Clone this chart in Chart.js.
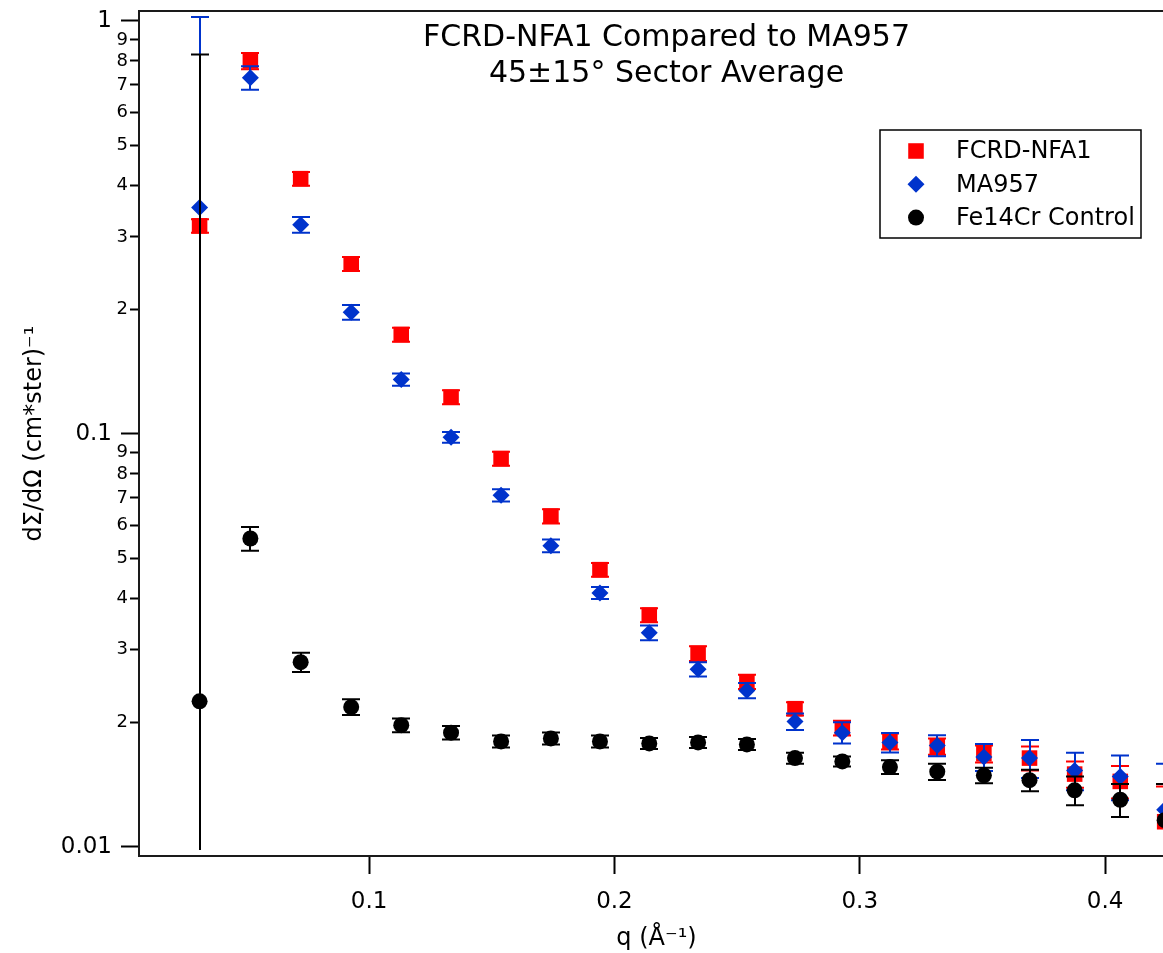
<!DOCTYPE html>
<html>
<head>
<meta charset="utf-8">
<title>FCRD-NFA1 Compared to MA957</title>
<script src="https://cdn.jsdelivr.net/npm/chart.js@4.4.1/dist/chart.umd.min.js"></script>
<style>
    html, body { margin: 0; padding: 0; background: #fff; overflow: hidden; }
    #wrap { position: absolute; left: 0; top: 0; width: 1185px; height: 953px; }
</style>
</head>
<body>
<div id="wrap"><canvas id="sansChart"></canvas></div>
<script>
// q values (1/A)
const qValues = [0.0309, 0.0516, 0.0721, 0.0927, 0.1131, 0.1334, 0.1538, 0.1741, 0.1941, 0.2142,
    0.2341, 0.2540, 0.2736, 0.2929, 0.3123, 0.3316, 0.3506, 0.3692, 0.3876, 0.4062, 0.4243];

const seriesNames = ['FCRD-NFA1', 'MA957', 'Fe14Cr Control'];

const fcrdValues = [0.319, 0.800, 0.415, 0.258, 0.174, 0.1227, 0.0871, 0.0632, 0.0469, 0.0364,
    0.0294, 0.0251, 0.0216, 0.0194, 0.0180, 0.0175, 0.0168, 0.0164, 0.0150, 0.0144, 0.0115];
const fcrdErrors = [0.012, 0.036, 0.016, 0.010, 0.0068, 0.0048, 0.0034, 0.0025, 0.0018, 0.0014,
    0.0012, 0.0010, 0.0008, 0.0008, 0.0008, 0.0008, 0.0008, 0.0011, 0.0011, 0.0013, 0.0025];

const ma957Values = [0.3535, 0.729, 0.321, 0.197, 0.1354, 0.0981, 0.0710, 0.0536, 0.0412, 0.0330,
    0.0269, 0.0239, 0.0201, 0.0189, 0.0179, 0.0176, 0.0165, 0.0164, 0.0153, 0.0148, 0.0123];
const ma957Errors = [0.669, 0.048, 0.014, 0.0081, 0.0046, 0.0029, 0.0024, 0.0019, 0.0014, 0.00136,
    0.00107, 0.00102, 0.00093, 0.00112, 0.00097, 0.00103, 0.00124, 0.00173, 0.0016, 0.00183, 0.0036];

const fe14crValues = [0.0225, 0.0558, 0.0280, 0.0218, 0.0197, 0.0189, 0.0180, 0.0183, 0.0180, 0.0178,
    0.0179, 0.0177, 0.0164, 0.0161, 0.0156, 0.0152, 0.0149, 0.0145, 0.0137, 0.0130, 0.0116];
const fe14crErrors = [0.807, 0.0037, 0.0015, 0.00096, 0.00075, 0.00072, 0.00061, 0.00062, 0.00061, 0.00055,
    0.00055, 0.00055, 0.0005, 0.00045, 0.0006, 0.00068, 0.00065, 0.00086, 0.0011, 0.0012, 0.0026];

// tick values
const xTicks = [0.1, 0.2, 0.3, 0.4];
const yMajorTicks = [0.01, 0.1, 1];
const yMinorTicks = [0.02, 0.03, 0.04, 0.05, 0.06, 0.07, 0.08, 0.09, 0.2, 0.3, 0.4, 0.5, 0.6, 0.7, 0.8, 0.9];

const FONT = "'DejaVu Sans', sans-serif";
const RED = '#ff0000';
const BLUE = '#0033cc';
const BLACK = '#000000';
const AXIS = '#1a1a1a';

function toPoints(values) {
    return qValues.map((q, i) => ({ x: q, y: values[i] }));
}

// no label overflow padding, so the plot box sits where the reference has it
function noOverflow(scale) {
    scale.paddingTop = 0;
    scale.paddingBottom = 0;
    scale.paddingLeft = 0;
    scale.paddingRight = 0;
}

// the minor-tick axis takes no layout space; give it room back on the left
// so its labels are not clipped away
const pinMinorAxis = {
    id: 'pinMinorAxis',
    afterLayout(chart) {
        const a = chart.chartArea;
        const m = chart.scales.yMinor;
        m.left = a.left - 40;
        m.right = a.left;
        m.width = 40;
        m.top = a.top;
        m.bottom = a.bottom;
        m.height = a.bottom - a.top;
        m.configure();
    }
};

// error bars, drawn just before each dataset's markers
const errorBars = {
    id: 'errorBars',
    beforeDatasetDraw(chart, args) {
        const ds = chart.data.datasets[args.index];
        if (!ds.errors) return;
        const { ctx, chartArea: area } = chart;
        const xs = chart.scales.x, ys = chart.scales.y;
        ctx.save();
        ctx.beginPath();
        ctx.rect(area.left, area.top, area.right - area.left, area.bottom - area.top);
        ctx.clip();
        ctx.strokeStyle = ds.backgroundColor;
        ctx.lineWidth = 2;
        ds.data.forEach((p, i) => {
            const e = ds.errors[i];
            const px = Math.round(xs.getPixelForValue(p.x));
            const hi = ys.getPixelForValue(p.y + e);
            const lowOk = p.y - e > 0;
            const lo = lowOk ? ys.getPixelForValue(p.y - e) : area.bottom - 6;
            ctx.beginPath();
            ctx.moveTo(px, hi);
            ctx.lineTo(px, lo);
            ctx.moveTo(px - 9, hi);
            ctx.lineTo(px + 9, hi);
            if (lowOk) {
                ctx.moveTo(px - 9, lo);
                ctx.lineTo(px + 9, lo);
            }
            ctx.stroke();
        });
        ctx.restore();
    }
};

// top/right frame, title inside the plot and boxed legend
const decorations = {
    id: 'decorations',
    afterDraw(chart) {
        const { ctx, chartArea: area } = chart;
        ctx.save();
        ctx.strokeStyle = AXIS;
        ctx.lineWidth = 2;
        ctx.beginPath();
        ctx.moveTo(area.left, area.top);
        ctx.lineTo(area.right, area.top);
        ctx.lineTo(area.right, area.bottom);
        ctx.stroke();

        // title
        const cx = (area.left + area.right) / 2 + 10;
        ctx.fillStyle = '#000';
        ctx.textAlign = 'center';
        ctx.textBaseline = 'middle';
        ctx.font = '30px ' + FONT;
        ctx.fillText('FCRD-NFA1 Compared to MA957', cx, 38);
        ctx.fillText('45\u00b115\u00b0 Sector Average', cx, 74);

        // legend
        const lx = 880, ly = 130, lw = 261, lh = 108;
        ctx.lineWidth = 1.5;
        ctx.strokeStyle = '#000';
        ctx.strokeRect(lx, ly, lw, lh);
        ctx.textAlign = 'left';
        ctx.font = '24px ' + FONT;
        chart.data.datasets.forEach((ds, i) => {
            const my = ly + 21 + i * 33.3;
            ctx.fillStyle = ds.backgroundColor;
            ctx.strokeStyle = ds.backgroundColor;
            Chart.helpers.drawPoint(ctx, {
                pointStyle: ds.pointStyle,
                radius: ds.pointRadius,
                borderWidth: 0,
                rotation: 0
            }, 916, my);
            ctx.fillStyle = '#000';
            ctx.fillText(ds.label, 956, my + 1);
        });
        ctx.restore();
    }
};

new Chart(document.getElementById('sansChart').getContext('2d'), {
    type: 'scatter',
    data: {
        datasets: [
            {
                label: seriesNames[0],
                data: toPoints(fcrdValues),
                errors: fcrdErrors,
                pointStyle: 'rect',
                pointRadius: 11,
                pointBorderWidth: 0,
                backgroundColor: RED,
                borderColor: RED,
                order: 3
            },
            {
                label: seriesNames[1],
                data: toPoints(ma957Values),
                errors: ma957Errors,
                pointStyle: 'rectRot',
                pointRadius: 8.5,
                pointBorderWidth: 0,
                backgroundColor: BLUE,
                borderColor: BLUE,
                order: 2
            },
            {
                label: seriesNames[2],
                data: toPoints(fe14crValues),
                errors: fe14crErrors,
                pointStyle: 'circle',
                pointRadius: 8,
                pointBorderWidth: 0,
                backgroundColor: BLACK,
                borderColor: BLACK,
                order: 1
            }
        ]
    },
    options: {
        responsive: true,
        maintainAspectRatio: false,
        animation: false,
        events: [],
        layout: { padding: { top: 10, right: 10, bottom: 0, left: 0 } },
        plugins: {
            legend: { display: false },
            title: { display: false },
            tooltip: { enabled: false }
        },
        scales: {
            x: {
                type: 'linear',
                position: 'bottom',
                min: 0.0062,
                max: 0.4281,
                afterBuildTicks: (scale) => { scale.ticks = xTicks.map(v => ({ value: v })); },
                afterFit: (scale) => { scale.height = 97; noOverflow(scale); },
                ticks: {
                    autoSkip: false,
                    maxRotation: 0,
                    padding: 14,
                    color: '#000',
                    font: { family: FONT, size: 23 },
                    callback: (v) => v.toFixed(1)
                },
                grid: { drawOnChartArea: false, tickLength: 18, tickColor: '#000', tickWidth: 2 },
                border: { display: true, color: AXIS, width: 2 },
                title: {
                    display: true,
                    text: 'q (\u00c5\u207b\u00b9)',
                    color: '#000',
                    font: { family: FONT, size: 24 },
                    padding: { top: 0, bottom: 0 }
                }
            },
            y: {
                type: 'logarithmic',
                position: 'left',
                weight: 2,
                min: 0.0095,
                max: 1.057,
                afterBuildTicks: (scale) => { scale.ticks = yMajorTicks.map(v => ({ value: v, major: true })); },
                afterFit: (scale) => { scale.width = 139; noOverflow(scale); },
                ticks: {
                    autoSkip: false,
                    padding: 9,
                    color: '#000',
                    font: { family: FONT, size: 23 },
                    callback: (v) => String(v)
                },
                grid: { drawOnChartArea: false, tickLength: 18, tickColor: '#000', tickWidth: 2 },
                border: { display: true, color: AXIS, width: 2 },
                title: {
                    display: true,
                    text: 'd\u03a3/d\u03a9 (cm*ster)\u207b\u00b9',
                    color: '#000',
                    font: { family: FONT, size: 24 },
                    padding: { top: 20, bottom: 0 }
                }
            },
            yMinor: {
                type: 'logarithmic',
                position: 'left',
                weight: 0,
                min: 0.0095,
                max: 1.057,
                afterBuildTicks: (scale) => { scale.ticks = yMinorTicks.map(v => ({ value: v })); },
                afterFit: (scale) => { scale.width = 0; noOverflow(scale); },
                ticks: {
                    autoSkip: false,
                    padding: 2,
                    color: '#000',
                    font: { family: FONT, size: 18 },
                    callback: (v) => String(Math.round(v / Math.pow(10, Math.floor(Math.log10(v) + 1e-9))))
                },
                grid: { drawOnChartArea: false, tickLength: 9, tickColor: '#000', tickWidth: 2 },
                border: { display: true, color: AXIS, width: 2 }
            }
        }
    },
    plugins: [pinMinorAxis, errorBars, decorations]
});
</script>
</body>
</html>
